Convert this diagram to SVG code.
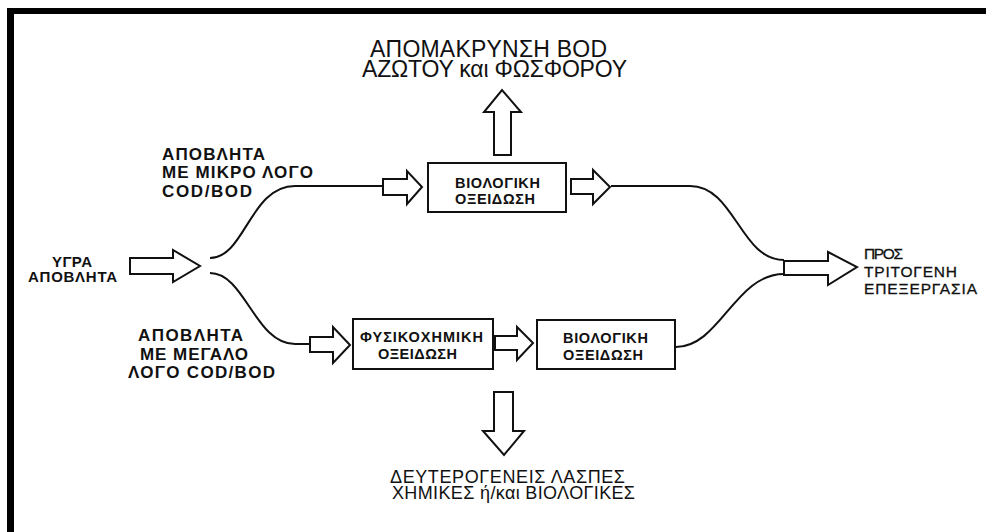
<svg xmlns="http://www.w3.org/2000/svg" width="986" height="532" viewBox="0 0 986 532">
<style>
text{font-family:"Liberation Sans",Arial,sans-serif;fill:#111}
.big{font-size:23px}
.lbl{font-size:17px;font-weight:bold}
.in{font-size:15px;font-weight:bold}
.box{font-size:14.5px;font-weight:bold}
.sm{font-size:15.5px;stroke:#111;stroke-width:0.3}
.bot{font-size:18px}
.node rect{fill:#fff;stroke:#111;stroke-width:2}
.arr{fill:#fff;stroke:#111;stroke-width:2;stroke-linejoin:miter}
.wire{fill:none;stroke:#111;stroke-width:2}
</style>
<rect width="986" height="532" fill="#fff"/>
<g id="frame">
<rect x="7" y="8" width="979" height="6" fill="#000"/>
<rect x="7" y="8" width="7" height="524" fill="#000"/>
</g>
<g id="connectors">
<path class="wire" d="M210,258 C245,258 250,186 295,186 L384,186"/>
<path class="wire" d="M210,273 C245,273 255,344 295,344 L311,344"/>
<path class="wire" d="M611,186 L690,186 C735,186 740,260 784,260"/>
<path class="wire" d="M676,347 C720,347 735,274 784,274"/>
<path class="arr" d="M130,258 L173,258 L173,250 L200,266 L173,282 L173,274 L130,274 Z"/>
<path class="arr" d="M383,179 L407,179 L407,171 L422,187 L407,204 L407,195 L383,195 Z"/>
<path class="arr" d="M571,179 L593,179 L593,170 L610,187 L593,204 L593,194 L571,194 Z"/>
<path class="arr" d="M310,337 L333,337 L333,327 L350,345 L333,363 L333,352 L310,352 Z"/>
<path class="arr" d="M495,336 L517,336 L517,327 L533,343 L517,360 L517,350 L495,350 Z"/>
<path class="arr" d="M784,261 L828,261 L828,252 L857,267 L828,285 L828,275 L784,275 Z"/>
<path class="arr" d="M494,155 L494,112 L484,112 L502,90 L521,112 L511,112 L511,155 Z"/>
<path class="arr" d="M494,392 L513,392 L513,431 L524,431 L504,455 L483,431 L494,431 Z"/>
</g>
<g id="removal">
<text class="big" x="370" y="57" textLength="237">ΑΠΟΜΑΚΡΥΝΣΗ BOD</text>
<text class="big" x="362" y="77" textLength="265">ΑΖΩΤΟΥ και ΦΩΣΦΟΡΟΥ</text>
</g>
<g id="input">
<text class="in" x="52" y="267" textLength="40">ΥΓΡΑ</text>
<text class="in" x="28" y="282" textLength="89">ΑΠΟΒΛΗΤΑ</text>
</g>
<g id="low-ratio">
<text class="lbl" x="162" y="160" textLength="103">ΑΠΟΒΛΗΤΑ</text>
<text class="lbl" x="162" y="178" textLength="151">ΜΕ ΜΙΚΡΟ ΛΟΓΟ</text>
<text class="lbl" x="162" y="197" textLength="90">COD/BOD</text>
</g>
<g id="high-ratio">
<text class="lbl" x="138" y="341" textLength="105">ΑΠΟΒΛΗΤΑ</text>
<text class="lbl" x="140" y="360" textLength="108">ΜΕ ΜΕΓΑΛΟ</text>
<text class="lbl" x="128" y="378" textLength="147">ΛΟΓΟ COD/BOD</text>
</g>
<g id="bio1" class="node">
<rect x="428" y="163" width="138" height="49"/>
<text class="box" x="455" y="188" textLength="85">ΒΙΟΛΟΓΙΚΗ</text>
<text class="box" x="455" y="204" textLength="80">ΟΞΕΙΔΩΣΗ</text>
</g>
<g id="physchem" class="node">
<rect x="353" y="319" width="140" height="50"/>
<text class="box" x="360" y="342" textLength="123">ΦΥΣΙΚΟΧΗΜΙΚΗ</text>
<text class="box" x="378" y="359" textLength="79">ΟΞΕΙΔΩΣΗ</text>
</g>
<g id="bio2" class="node">
<rect x="537" y="320" width="138" height="49"/>
<text class="box" x="563" y="343" textLength="85">ΒΙΟΛΟΓΙΚΗ</text>
<text class="box" x="563" y="360" textLength="80">ΟΞΕΙΔΩΣΗ</text>
</g>
<g id="tertiary">
<text class="sm" x="864" y="259" textLength="39">ΠΡΟΣ</text>
<text class="sm" x="864" y="277" textLength="93">ΤΡΙΤΟΓΕΝΗ</text>
<text class="sm" x="864" y="294" textLength="113">ΕΠΕΞΕΡΓΑΣΙΑ</text>
</g>
<g id="sludge">
<text class="bot" x="390" y="483" textLength="235">ΔΕΥΤΕΡΟΓΕΝΕΙΣ ΛΑΣΠΕΣ</text>
<text class="bot" x="392" y="499" textLength="243">ΧΗΜΙΚΕΣ ή/και ΒΙΟΛΟΓΙΚΕΣ</text>
</g>
</svg>
